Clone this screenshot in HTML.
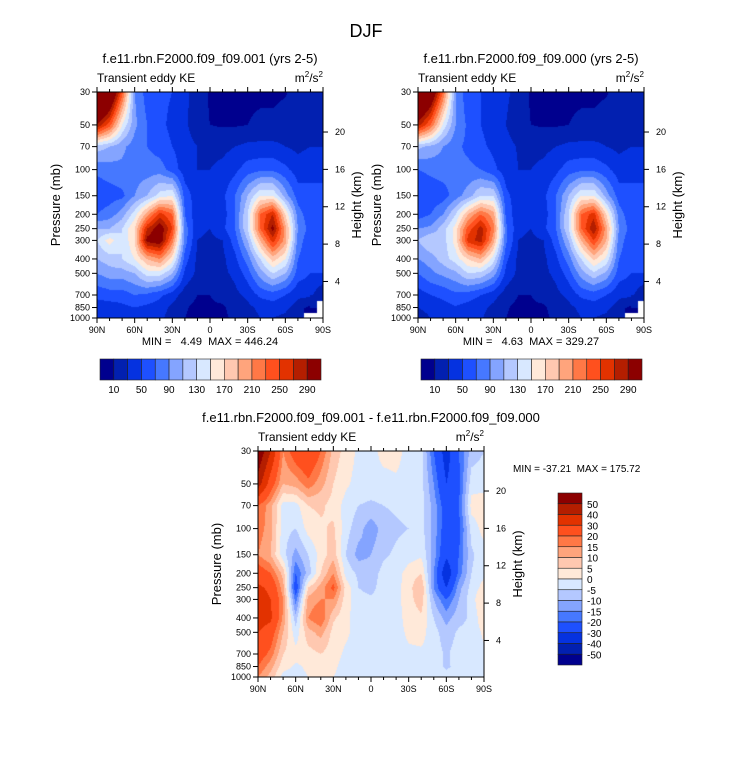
<!DOCTYPE html>
<html><head><meta charset="utf-8"><style>
body{margin:0;background:#fff;}
#root{position:relative;width:733px;height:772px;overflow:hidden;font-family:"Liberation Sans",sans-serif;}
canvas{position:absolute;}
svg{position:absolute;left:0;top:0;}
</style></head><body>
<div id="root">
<canvas id="c1" width="226" height="226" style="left:97px;top:92px"></canvas>
<canvas id="c2" width="226" height="226" style="left:418px;top:92px"></canvas>
<canvas id="c3" width="226" height="226" style="left:258px;top:451px"></canvas>
<svg id="ov" width="733" height="772"></svg>
</div>
<script>
const lats=[90,80,70,60,50,40,30,20,10,0,-10,-20,-30,-40,-50,-60,-70,-80,-90];
const plevs=[30,50,70,100,150,200,250,300,400,500,700,850,1000];
const latTicks=["90N","60N","30N","0","30S","60S","90S"];
const heightTicks=[20,16,12,8,4];
const levelsKE=[10,30,50,70,90,110,130,150,170,190,210,230,250,270,290];
const labelsKE=["10","50","90","130","170","210","250","290"];
const levelsDiff=[-50,-40,-30,-20,-15,-10,-5,0,5,10,15,20,30,40,50];
const labelsDiff=["50","40","30","20","15","10","5","0","-5","-10","-15","-20","-30","-40","-50"];
const palette=["#00008e","#0220b0","#0532e0","#1e50ff","#4678ff","#84a4ff","#b4c8ff","#d8e8ff","#ffe9d9","#ffc8b0","#ffa47c","#ff7846","#ff501e","#e23200","#b41e00","#8c0000"];
const N=null;
const ke001=[
[420,360,240,90,60,55,50,35,20,8,5,5,5,5,5,8,20,25,25],
[290,240,150,95,70,55,45,35,15,10,8,8,10,15,15,20,20,28,28],
[120,110,95,80,70,60,50,40,30,25,25,30,35,35,35,30,25,30,30],
[75,80,85,80,80,80,60,40,30,30,35,45,60,65,65,55,40,45,45],
[55,60,65,90,110,140,150,60,40,35,45,70,110,150,150,100,60,55,55],
[70,80,100,140,200,260,230,70,35,30,40,70,130,230,270,170,80,55,55],
[110,110,130,170,270,310,250,80,35,30,45,70,130,230,300,200,90,60,60],
[130,160,130,170,300,310,220,80,30,25,30,60,110,190,260,200,80,55,55],
[110,120,130,150,190,210,160,60,25,20,25,45,80,130,180,150,70,55,55],
[90,100,100,110,140,140,110,45,25,20,25,35,60,100,130,110,60,50,50],
[55,60,60,70,65,55,40,20,10,10,15,25,35,55,60,50,35,35,10],
[40,40,45,50,45,40,25,12,5,8,8,15,25,35,40,35,20,5,N],
[30,35,40,45,40,35,20,10,5,8,8,12,20,30,30,25,10,N,N]];
const ke000=[
[400,340,230,90,55,50,45,35,20,8,5,5,5,5,5,8,20,25,25],
[280,230,145,90,65,50,40,30,15,10,8,8,10,15,15,20,20,28,28],
[115,105,90,75,65,55,45,38,28,25,25,30,35,35,35,30,25,30,30],
[70,75,80,75,75,70,55,40,30,30,35,45,60,65,65,55,40,45,45],
[50,55,60,80,100,130,130,55,40,35,45,70,110,150,150,100,60,55,55],
[60,70,90,130,190,230,200,65,35,30,40,70,130,230,260,170,80,55,55],
[90,95,120,160,240,280,220,75,35,30,45,70,130,230,290,200,90,60,60],
[110,130,120,160,260,280,200,75,30,25,30,60,110,190,250,190,80,55,55],
[90,100,120,140,170,190,140,55,25,20,25,45,80,130,175,145,70,55,55],
[70,85,95,105,130,125,100,45,25,20,25,35,60,100,125,105,60,50,50],
[40,50,55,65,60,50,38,20,10,10,15,25,35,55,60,50,35,35,10],
[30,35,42,48,42,36,25,12,5,8,8,15,25,35,40,35,20,5,N],
[22,30,38,42,38,32,20,10,5,8,8,12,20,30,30,25,10,N,N]];
const diff=[
[60,40,15,25,30,20,8,3,-1,-2,2,2,-2,-3,-20,-35,-20,-8,-5],
[45,25,10,12,18,12,5,1,-2,-2,-2,-1,-2,-3,-15,-30,-22,-2,-2],
[20,12,-2,-2,5,6,3,-2,-5,-6,-5,-4,-3,-3,-12,-25,-20,2,3],
[18,12,-3,-5,2,4,6,-3,-8,-13,-8,-6,-5,-3,-12,-25,-22,-3,2],
[15,10,-3,-12,-5,2,8,-5,-12,-10,-6,-4,-2,-1,-12,-28,-20,-6,-2],
[25,20,8,-20,-8,5,15,-2,-6,-8,-3,-2,2,5,-15,-38,-18,-5,-1],
[32,28,12,-25,5,12,22,3,-5,-7,-2,-2,3,10,-15,-30,-12,-3,2],
[35,30,15,-18,12,15,15,2,-3,-4,-2,-2,3,8,-10,-20,-10,-2,5],
[35,32,14,-8,15,20,6,1,-2,-2,-2,-2,2,4,-5,-12,-7,-4,4],
[30,25,10,-3,8,12,3,1,-2,-2,-2,-2,1,2,-3,-8,-4,-3,1],
[25,18,5,2,3,5,2,-1,-2,-2,-2,-2,-1,-1,-2,-6,-2,-2,-1],
[20,12,2,-1,1,2,1,-2,-2,-2,-2,-2,-2,-2,-2,-6,-3,-2,-2],
[15,8,-2,-2,0,2,0,-2,-2,-2,-2,-2,-2,-2,-2,-3,-2,-2,-2]];

const lnTop=Math.log(30),lnBot=Math.log(1000);
function yOfP(p,y0,h){return y0+h*(Math.log(p)-lnTop)/(lnBot-lnTop);}
function xOfLat(lat,x0,w){return x0+w*(90-lat)/180;}
function hex(c){return [parseInt(c.substr(1,2),16),parseInt(c.substr(3,2),16),parseInt(c.substr(5,2),16)];}
const lnP=plevs.map(Math.log);
function drawField(id,data,levels){
  const cv=document.getElementById(id),ctx=cv.getContext('2d');
  const W=cv.width,H=cv.height,img=ctx.createImageData(W,H);
  const pal=palette.map(hex);
  for(let py=0;py<H;py++){
    const lp=lnTop+(py+0.5)/H*(lnBot-lnTop);
    let j=0;while(j<lnP.length-2&&lp>lnP[j+1])j++;
    let fy=(lp-lnP[j])/(lnP[j+1]-lnP[j]);fy=Math.max(0,Math.min(1,fy));
    for(let px=0;px<W;px++){
      const lat=90-(px+0.5)/W*180;
      const fi=(90-lat)/10;let i=Math.min(Math.floor(fi),lats.length-2);const fx=fi-i;
      const a=data[j][i],b=data[j][i+1],c=data[j+1][i],d=data[j+1][i+1];
      const k=(py*W+px)*4;let rgb;
      if(a===null||b===null||c===null||d===null){
        const nv=data[fy<0.5?j:j+1][fx<0.5?i:i+1];
        if(nv===null){rgb=[255,255,255];}
        else{const vv=[a,b,c,d].filter(x=>x!==null);let s=0;vv.forEach(x=>s+=x);
          let ci=0;const v=nv*0.5+s/vv.length*0.5;while(ci<levels.length&&v>=levels[ci])ci++;rgb=pal[ci];}
      } else {
        const v=a*(1-fx)*(1-fy)+b*fx*(1-fy)+c*(1-fx)*fy+d*fx*fy;
        let ci=0;while(ci<levels.length&&v>=levels[ci])ci++;rgb=pal[ci];
      }
      img.data[k]=rgb[0];img.data[k+1]=rgb[1];img.data[k+2]=rgb[2];img.data[k+3]=255;
    }
  }
  ctx.putImageData(img,0,0);
}
drawField('c1',ke001,levelsKE);
drawField('c2',ke000,levelsKE);
drawField('c3',diff,levelsDiff);

const S='http://www.w3.org/2000/svg',ov=document.getElementById('ov');
function el(tag,attrs,parent){const e=document.createElementNS(S,tag);for(const k in attrs)e.setAttribute(k,attrs[k]);(parent||ov).appendChild(e);return e;}
function txt(x,y,s,size,anchor,name,extra){
  const t=el('text',Object.assign({x:x,y:y,'font-size':size,'text-anchor':anchor||'middle','font-family':'Liberation Sans, sans-serif',fill:'#000'},extra||{}));
  t.textContent=s;
  
  
  return t;
}
function unitText(x,y,name){
  const t=el('text',{x:x,y:y,'font-size':12,'text-anchor':'end','font-family':'Liberation Sans, sans-serif'});
  
  
  t.innerHTML='m<tspan dy="-5" font-size="8">2</tspan><tspan dy="5">/s</tspan><tspan dy="-5" font-size="8">2</tspan>';
}
function axes(x0,y0,key,title){
  const w=226,h=226,x1=x0+w,y1=y0+h;
  const g=el('g',{});
  
  
  el('rect',{x:x0,y:y0,width:w,height:h,fill:'none',stroke:'#000','stroke-width':1},g);
  for(let lat=90;lat>=-90;lat-=10){
    const x=xOfLat(lat,x0,w),major=(lat%30===0);const L=major?5:3;
    el('line',{x1:x,y1:y1,x2:x,y2:y1+L,stroke:'#000'},g);
    el('line',{x1:x,y1:y0,x2:x,y2:y0-L,stroke:'#000'},g);
  }
  latTicks.forEach((s,i)=>{txt(xOfLat(90-30*i,x0,w),y1+15,s,9,'middle','lat-label-'+key);});
  plevs.forEach(p=>{const y=yOfP(p,y0,h);
    el('line',{x1:x0,y1:y,x2:x0-5,y2:y,stroke:'#000'},g);
    txt(x0-7,y+3,String(p),9,'end','pressure-label-'+key);});
  heightTicks.forEach(z=>{const p=1013*Math.exp(-z/6.9);const y=yOfP(p,y0,h);
    el('line',{x1:x1,y1:y,x2:x1+5,y2:y,stroke:'#000'},g);
    txt(x1+12,y+3,String(z),9,'start','height-label-'+key);});
  txt(x0-37,y0+h/2,'Pressure (mb)',13,'middle','pressure-axis-title-'+key,{transform:'rotate(-90 '+(x0-37)+' '+(y0+h/2)+')'});
  txt(x1+38,y0+h/2,'Height (km)',13,'middle','height-axis-title-'+key,{transform:'rotate(-90 '+(x1+38)+' '+(y0+h/2)+')'});
  txt(x0,y0-10,'Transient eddy KE',12,'start','variable-label-'+key);
  unitText(x1,y0-10,'units-label-'+key);
  txt(x0+w/2,y0-29,title,13,'middle','panel-title-'+key);
}
txt(366,37,'DJF',18,'middle','figure-title');
axes(97,92,'001','f.e11.rbn.F2000.f09_f09.001 (yrs 2-5)');
axes(418,92,'000','f.e11.rbn.F2000.f09_f09.000 (yrs 2-5)');
axes(258,451,'diff','');
txt(371,422,'f.e11.rbn.F2000.f09_f09.001 - f.e11.rbn.F2000.f09_f09.000',13,'middle','diff-panel-title');
txt(210,345,'MIN =   4.49  MAX = 446.24',11,'middle','minmax-001',{style:'white-space:pre'});
txt(531,345,'MIN =   4.63  MAX = 329.27',11,'middle','minmax-000',{style:'white-space:pre'});
txt(513,472,'MIN = -37.21  MAX = 175.72',10,'start','minmax-diff',{style:'white-space:pre'});

function hbar(x0,y0,w,h,key){
  const bw=w/palette.length;
  palette.forEach((c,i)=>{const r=el('rect',{x:x0+i*bw,y:y0,width:bw,height:h,fill:c,stroke:'#222','stroke-width':0.6});
    
    });
  labelsKE.forEach((s,i)=>{txt(x0+(2*i+1)*bw,y0+h+13,s,10,'middle','colorbar-label-'+key);});
}
hbar(100,359,221,21,'001');
hbar(421,359,221,21,'000');
(function(){
  const x0=558,y0=493,w=24,h=172,bh=h/palette.length;
  for(let i=0;i<palette.length;i++){
    const r=el('rect',{x:x0,y:y0+i*bh,width:w,height:bh,fill:palette[palette.length-1-i],stroke:'#222','stroke-width':0.6});
    
    
  }
  labelsDiff.forEach((s,i)=>{txt(x0+w+5,y0+(i+1)*bh+4,s,10,'start','colorbar-label-diff');});
})();
</script>
</body></html>
